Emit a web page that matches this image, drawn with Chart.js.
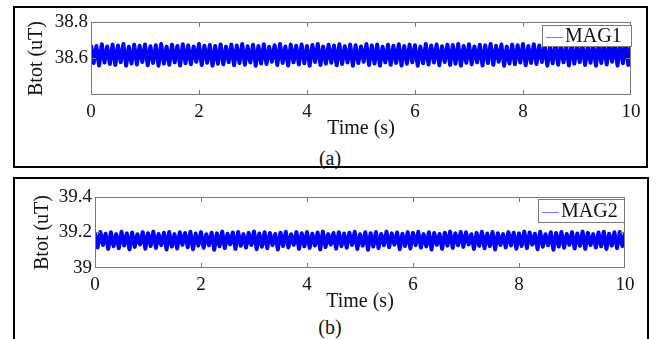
<!DOCTYPE html>
<html>
<head>
<meta charset="utf-8">
<script src="https://cdn.jsdelivr.net/npm/chart.js@4.4.1/dist/chart.umd.min.js"></script>
<style>
  html, body { margin: 0; padding: 0; background: #fff; }
  body { width: 658px; height: 339px; position: relative; overflow: hidden; font-family: "Liberation Serif", serif; }
  .frame { position: absolute; border: 2px solid #000; box-sizing: border-box; }
  .caption { position: absolute; font-size: 20px; color: #111; transform: translate(-50%, -50%); }
  canvas { position: absolute; left: 0; }
</style>
</head>
<body>
<div class="frame" style="left:13px; top:6px; width:635px; height:162px;"></div>
<div class="frame" style="left:13px; top:177px; width:636px; height:180px;"></div>
<div class="caption" style="left:330px; top:158px;">(a)</div>
<div class="caption" style="left:330px; top:327px;">(b)</div>
<canvas id="chartA" width="658" height="170" style="top:0px; width:658px; height:170px;"></canvas>
<canvas id="chartB" width="658" height="169" style="top:170px; width:658px; height:169px;"></canvas>
<script>
// time axis (s)
const timeStart = 0;
const sampleStep = 0.05;
const xTicks = [0, 2, 4, 6, 8, 10];

// magnetometer 1 total field (uT)
const mag1 = [
  38.674,38.575,38.669,38.562,38.678,38.578,38.666,38.570,38.676,38.565,
  38.671,38.580,38.679,38.561,38.664,38.573,38.675,38.567,38.670,38.581,
  38.677,38.563,38.667,38.576,38.673,38.560,38.680,38.572,38.665,38.566,
  38.676,38.579,38.669,38.562,38.678,38.574,38.672,38.569,38.666,38.582,
  38.679,38.564,38.670,38.577,38.674,38.561,38.668,38.571,38.677,38.568,
  38.665,38.580,38.676,38.563,38.671,38.575,38.679,38.566,38.667,38.578,
  38.675,38.560,38.669,38.573,38.678,38.570,38.664,38.582,38.673,38.564,
  38.680,38.576,38.666,38.562,38.676,38.579,38.670,38.567,38.677,38.574,
  38.668,38.561,38.674,38.581,38.679,38.565,38.665,38.572,38.675,38.577,
  38.671,38.563,38.678,38.570,38.667,38.578,38.676,38.560,38.673,38.575,
  38.666,38.582,38.679,38.564,38.672,38.573,38.677,38.561,38.664,38.579,
  38.675,38.566,38.670,38.576,38.678,38.562,38.668,38.571,38.676,38.580,
  38.673,38.560,38.665,38.574,38.679,38.567,38.671,38.578,38.677,38.563,
  38.667,38.581,38.676,38.565,38.674,38.572,38.680,38.561,38.669,38.577,
  38.678,38.569,38.666,38.579,38.675,38.562,38.672,38.575,38.679,38.566,
  38.670,38.582,38.677,38.560,38.665,38.573,38.676,38.568,38.673,38.578,
  38.679,38.563,38.668,38.576,38.678,38.570,38.671,38.581,38.675,38.561,
  38.666,38.574,38.680,38.566,38.674,38.579,38.669,38.562,38.677,38.572,
  38.672,38.580,38.678,38.564,38.667,38.577,38.681,38.560,38.674,38.575,
  38.682,38.567,38.676,38.582,38.683,38.561,38.678,38.574,38.684,38.565,
  38.680
];
const mag1Range = [38.4, 38.8];
const mag1Ticks = [38.6, 38.8];

// magnetometer 2 total field (uT)
const mag2 = [
  39.198,39.116,39.203,39.130,39.193,39.107,39.201,39.123,39.191,39.111,
  39.204,39.127,39.195,39.105,39.200,39.119,39.190,39.132,39.202,39.109,
  39.196,39.124,39.205,39.113,39.192,39.129,39.199,39.104,39.203,39.121,
  39.191,39.110,39.201,39.131,39.197,39.117,39.204,39.106,39.194,39.126,
  39.202,39.114,39.190,39.128,39.199,39.103,39.195,39.122,39.205,39.112,
  39.193,39.133,39.200,39.108,39.203,39.125,39.191,39.115,39.198,39.130,
  39.206,39.106,39.194,39.120,39.201,39.111,39.197,39.129,39.192,39.104,
  39.199,39.124,39.204,39.116,39.190,39.131,39.202,39.108,39.196,39.122,
  39.203,39.113,39.193,39.127,39.200,39.105,39.205,39.118,39.191,39.132,
  39.197,39.109,39.202,39.123,39.194,39.114,39.199,39.130,39.204,39.107,
  39.190,39.126,39.201,39.103,39.196,39.121,39.203,39.112,39.192,39.128,
  39.205,39.117,39.195,39.132,39.200,39.106,39.193,39.124,39.202,39.110,
  39.198,39.129,39.204,39.115,39.191,39.122,39.201,39.104,39.197,39.131,
  39.192,39.108,39.199,39.126,39.205,39.113,39.195,39.128,39.203,39.119,
  39.201,39.133,39.190,39.107,39.198,39.125,39.204,39.111,39.194,39.123,
  39.203,39.105,39.196,39.130,39.191,39.116,39.202,39.127,39.199,39.109,
  39.195,39.124,39.205,39.112,39.200,39.132,39.193,39.106,39.204,39.120,
  39.190,39.128,39.201,39.103,39.197,39.121,39.203,39.114,39.192,39.131,
  39.202,39.110,39.194,39.125,39.205,39.108,39.198,39.129,39.191,39.115,
  39.200,39.122,39.204,39.107,39.193,39.126,39.201,39.112,39.203,39.124,
  39.195
];
const mag2Range = [39, 39.4];
const mag2Ticks = [39, 39.2, 39.4];

const serif = 'Liberation Serif';
const lineBlue = '#0000ff';
const axisGray = '#7a7a7a';

// plot box with MATLAB-style inward ticks
const axesBox = {
  id: 'axesBox',
  afterDatasetsDraw(chart) {
    const { ctx, chartArea: a, scales } = chart;
    ctx.save();
    ctx.strokeStyle = axisGray;
    ctx.lineWidth = 1;
    ctx.strokeRect(a.left + 0.5, a.top + 0.5, a.width - 1, a.height - 1);
    ctx.beginPath();
    scales.x.ticks.forEach(t => {
      const px = Math.round(scales.x.getPixelForValue(t.value)) + 0.5;
      if (px <= a.left + 1 || px >= a.right - 1) return;
      ctx.moveTo(px, a.top); ctx.lineTo(px, a.top + 5);
      ctx.moveTo(px, a.bottom); ctx.lineTo(px, a.bottom - 5);
    });
    scales.y.ticks.forEach(t => {
      const py = Math.round(scales.y.getPixelForValue(t.value)) + 0.5;
      if (py <= a.top + 1 || py >= a.bottom - 1) return;
      ctx.moveTo(a.left, py); ctx.lineTo(a.left + 5, py);
      ctx.moveTo(a.right, py); ctx.lineTo(a.right - 5, py);
    });
    ctx.stroke();
    ctx.restore();
  }
};

// boxed legend in the top right corner of the plot
const boxLegend = {
  id: 'boxLegend',
  afterDraw(chart, args, opts) {
    const { ctx, chartArea: a } = chart;
    const ds = chart.data.datasets[0];
    const x1 = a.right + opts.dx;
    const x0 = x1 - opts.width;
    const y0 = a.top + opts.dy;
    ctx.save();
    ctx.fillStyle = '#fff';
    ctx.fillRect(x0, y0, opts.width, opts.height);
    ctx.strokeStyle = axisGray;
    ctx.lineWidth = 1;
    ctx.strokeRect(Math.round(x0) + 0.5, Math.round(y0) + 0.5, opts.width, opts.height);
    const cy = y0 + opts.height / 2 + 1;
    ctx.strokeStyle = 'rgba(60,60,255,0.7)';
    ctx.beginPath();
    ctx.moveTo(x0 + 4, Math.round(cy) + 0.5);
    ctx.lineTo(x0 + 21, Math.round(cy) + 0.5);
    ctx.stroke();
    ctx.fillStyle = '#111';
    ctx.font = '20px "' + serif + '"';
    ctx.textBaseline = 'middle';
    ctx.fillText(ds.label, x0 + 23, cy);
    ctx.restore();
  }
};

function makeChart(canvasId, label, values, range, yTicks, lay) {
  const points = values.map((v, i) => ({ x: timeStart + i * sampleStep, y: v }));
  return new Chart(document.getElementById(canvasId), {
    type: 'line',
    data: {
      datasets: [{
        label: label,
        data: points,
        borderColor: lineBlue,
        borderWidth: 4,
        borderJoinStyle: 'round',
        pointRadius: 0,
        tension: 0,
        fill: false
      }]
    },
    options: {
      responsive: false,
      animation: false,
      events: [],
      layout: { padding: lay.padding },
      plugins: {
        legend: { display: false },
        tooltip: { enabled: false },
        boxLegend: lay.legend
      },
      scales: {
        x: {
          type: 'linear',
          min: 0,
          max: 10,
          afterBuildTicks: s => { s.ticks = xTicks.map(v => ({ value: v })); },
          ticks: { color: '#111', font: { family: serif, size: 19 }, padding: 6, maxRotation: 0,
                   callback: v => String(v) },
          grid: { display: false, drawTicks: false },
          border: { display: false },
          title: { display: true, text: 'Time (s)', color: '#111',
                   font: { family: serif, size: 20 }, padding: { top: 0, bottom: 0 } },
          afterFit: s => { s.height = lay.xHeight; }
        },
        y: {
          min: range[0],
          max: range[1],
          afterBuildTicks: s => { s.ticks = yTicks.map(v => ({ value: v })); },
          ticks: { color: '#111', font: { family: serif, size: 19 }, padding: 3,
                   callback: v => String(v) },
          grid: { display: false, drawTicks: false },
          border: { display: false },
          title: { display: true, text: 'Btot (uT)', color: '#111',
                   font: { family: serif, size: 20 }, padding: { top: lay.yTitlePad, bottom: 0 } },
          afterFit: s => { s.width = lay.yWidth; }
        }
      }
    },
    plugins: [axesBox, boxLegend]
  });
}

makeChart('chartA', 'MAG1', mag1, mag1Range, mag1Ticks, {
  padding: { top: 22, right: 27, bottom: 29, left: 0 },
  xHeight: 46, yWidth: 91, yTitlePad: 25,
  legend: { dx: 0, dy: 3, width: 89, height: 21 }
});

makeChart('chartB', 'MAG2', mag2, mag2Range, mag2Ticks, {
  padding: { top: 27, right: 33, bottom: 25, left: 0 },
  xHeight: 46, yWidth: 95, yTitlePad: 31,
  legend: { dx: -1, dy: 2, width: 86, height: 23 }
});
</script>
</body>
</html>
